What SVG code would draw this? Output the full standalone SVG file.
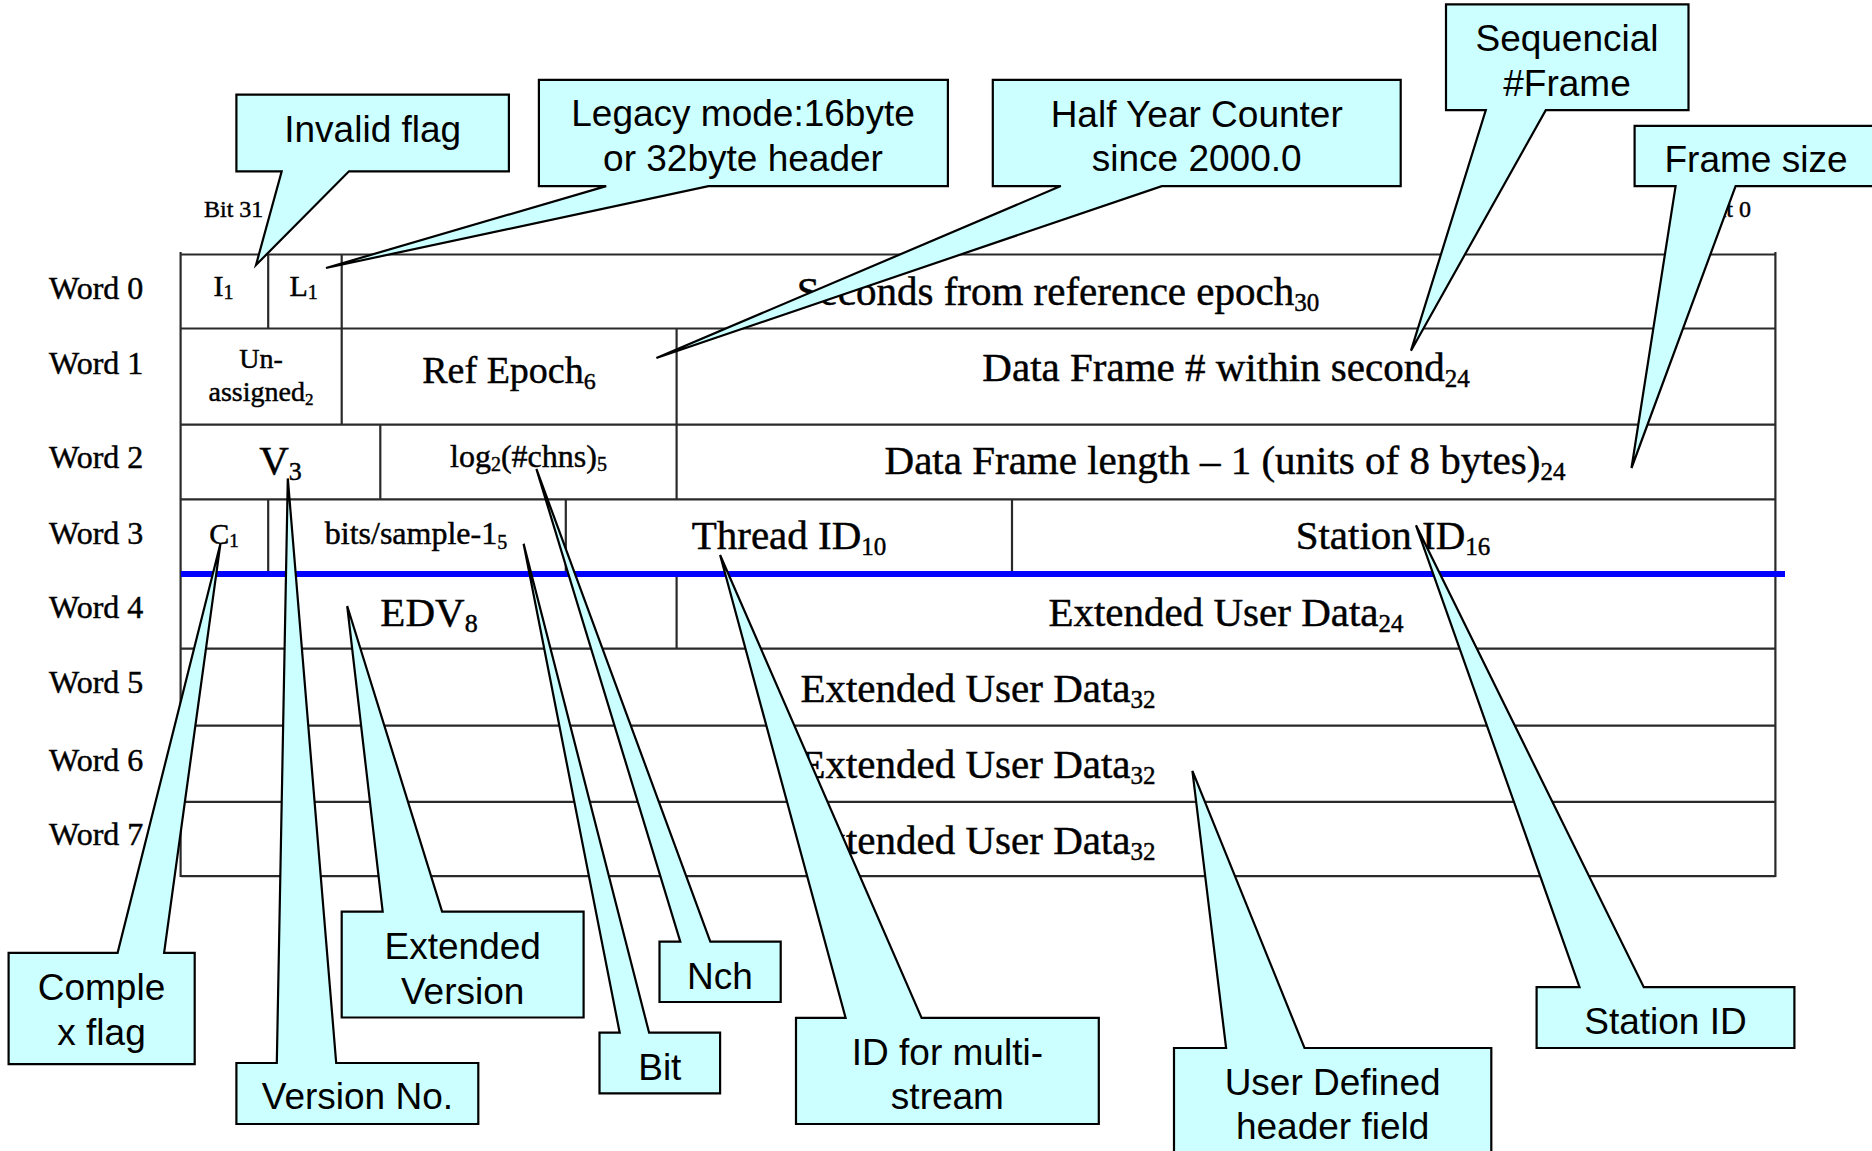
<svg xmlns="http://www.w3.org/2000/svg" width="1872" height="1151" viewBox="0 0 1872 1151">
<style>
.grid{stroke:#2a2a2a;stroke-width:2.2;fill:none}
.blue{stroke:#0000ff;stroke-width:6}
.t{font-family:"Liberation Serif","Times New Roman",serif;fill:#000;stroke:#000;stroke-width:0.45}
.big{font-size:41px;text-anchor:middle}
.mid{font-size:32px;text-anchor:middle}
.sm{font-size:30px;text-anchor:middle}
.word{font-size:32px}
.co{fill:#ccffff;stroke:#000;stroke-width:2.2;stroke-linejoin:miter}
.ct{font-family:"Liberation Sans",Arial,sans-serif;font-size:37px;text-anchor:middle;fill:#000}
</style>
<rect width="1872" height="1151" fill="#fff"/>
<g id="table">
<path class="grid" d="M180.6,254.5 H1775.4 M180.6,328.5 H1775.4 M180.6,424.7 H1775.4 M180.6,499.4 H1775.4 M180.6,648.7 H1775.4 M180.6,725.6 H1775.4 M180.6,801.9 H1775.4 M180.6,876.2 H1775.4 M180.6,252 V877 M1775.4,252 V877 M268.2,254.5 V328.5 M341.7,254.5 V424.7 M676.6,328.5 V499.4 M380.3,424.7 V499.4 M268.2,499.4 V573 M565.8,499.4 V573 M1012,499.4 V573 M676.6,573 V648.7"/>
<line class="blue" x1="181" y1="574" x2="1785" y2="574"/>
</g>
<g id="labels">
<text class="t" x="204" y="217" font-size="24">Bit 31</text>
<text class="t" x="1751" y="217" font-size="24" text-anchor="end">Bit 0</text>
<text class="t word" x="49" y="299">Word 0</text>
<text class="t word" x="49" y="374.4">Word 1</text>
<text class="t word" x="49" y="468">Word 2</text>
<text class="t word" x="49" y="543.8">Word 3</text>
<text class="t word" x="49" y="618">Word 4</text>
<text class="t word" x="49" y="693">Word 5</text>
<text class="t word" x="49" y="770.8">Word 6</text>
<text class="t word" x="49" y="844.8">Word 7</text>
</g>
<g id="fields">
<text class="t sm" x="223.5" y="295.7">I<tspan font-size="20" dy="3">1</tspan></text>
<text class="t sm" x="303.7" y="295.7">L<tspan font-size="20" dy="3">1</tspan></text>
<text class="t big" x="1058" y="305">Seconds from reference epoch<tspan font-size="25" dy="6">30</tspan></text>
<text class="t" x="261" y="368.3" font-size="28" text-anchor="middle">Un-</text>
<text class="t" x="261" y="401" font-size="28" text-anchor="middle">assigned<tspan font-size="17" dy="4">2</tspan></text>
<text class="t" x="509" y="383" font-size="38" text-anchor="middle">Ref Epoch<tspan font-size="24" dy="6">6</tspan></text>
<text class="t big" x="1226" y="381">Data Frame # within second<tspan font-size="25" dy="6">24</tspan></text>
<text class="t big" x="280.5" y="473.5">V<tspan font-size="26" dy="6">3</tspan></text>
<text class="t mid" x="528.5" y="467">log<tspan font-size="20" dy="4">2</tspan><tspan dy="-4">(#chns)</tspan><tspan font-size="20" dy="4">5</tspan></text>
<text class="t big" x="1225" y="473.6">Data Frame length – 1 (units of 8 bytes)<tspan font-size="25" dy="6">24</tspan></text>
<text class="t" x="224" y="544" font-size="30" text-anchor="middle">C<tspan font-size="19" dy="3">1</tspan></text>
<text class="t mid" x="416" y="543.5">bits/sample-1<tspan font-size="20" dy="5">5</tspan></text>
<text class="t big" x="789" y="549.4">Thread ID<tspan font-size="25" dy="6">10</tspan></text>
<text class="t big" x="1393" y="549.4">Station ID<tspan font-size="25" dy="6">16</tspan></text>
<text class="t big" x="429" y="626">EDV<tspan font-size="26" dy="6">8</tspan></text>
<text class="t big" x="1226" y="626">Extended User Data<tspan font-size="25" dy="6">24</tspan></text>
<text class="t big" x="978" y="702.3">Extended User Data<tspan font-size="25" dy="6">32</tspan></text>
<text class="t big" x="978" y="778.2">Extended User Data<tspan font-size="25" dy="6">32</tspan></text>
<text class="t big" x="978" y="854">Extended User Data<tspan font-size="25" dy="6">32</tspan></text>
</g>
<g id="connectors"></g>
<g id="callout-invalid">
<path class="co" d="M236.4,94.7 H508.9 V171.3 H349 L256,265 L281.7,171.3 H236.4 Z"/>
<text class="ct" x="372.7" y="141.7">Invalid flag</text>
</g>
<g id="callout-legacy">
<path class="co" d="M538.9,79.9 H947.9 V186.1 H708.5 L326,268 L606.2,186.1 H538.9 Z"/>
<text class="ct" x="743" y="126">Legacy mode:16byte</text>
<text class="ct" x="743" y="171">or 32byte header</text>
</g>
<g id="callout-halfyear">
<path class="co" d="M992.8,79.9 H1400.7 V186.1 H1161.8 L656.4,358 L1060.8,186.1 H992.8 Z"/>
<text class="ct" x="1196.7" y="127">Half Year Counter</text>
<text class="ct" x="1196.7" y="171">since 2000.0</text>
</g>
<g id="callout-seqframe">
<path class="co" d="M1446,4.4 H1688.5 V110.2 H1545.8 L1411,350.7 L1485.8,110.2 H1446 Z"/>
<text class="ct" x="1567" y="51">Sequencial</text>
<text class="ct" x="1567" y="96">#Frame</text>
</g>
<g id="callout-framesize">
<path class="co" d="M1634.6,125.8 H1882 V186.1 H1735.6 L1631.5,468 L1675.6,186.1 H1634.6 Z"/>
<text class="ct" x="1756" y="172">Frame size</text>
</g>
<g id="callout-complex">
<path class="co" d="M8.6,952.8 H117.6 L220.4,543.8 L164.1,952.8 H194.7 V1064.2 H8.6 Z"/>
<text class="ct" x="101.5" y="1000">Comple</text>
<text class="ct" x="101.5" y="1044.5">x flag</text>
</g>
<g id="callout-version">
<path class="co" d="M236.4,1063 H276.8 L287.8,478.4 L336.2,1063 H478.3 V1124 H236.4 Z"/>
<text class="ct" x="357.4" y="1109">Version No.</text>
</g>
<g id="callout-extversion">
<path class="co" d="M341.7,911.7 H382.7 L347.2,606 L442.1,911.7 H583.6 V1017.5 H341.7 Z"/>
<text class="ct" x="462.7" y="958.7">Extended</text>
<text class="ct" x="462.7" y="1003.8">Version</text>
</g>
<g id="callout-bit">
<path class="co" d="M599.5,1032.7 H619.7 L523.6,543.8 L649.1,1032.7 H720.1 V1093.4 H599.5 Z"/>
<text class="ct" x="659.8" y="1079.7">Bit</text>
</g>
<g id="callout-nch">
<path class="co" d="M659.5,941.7 H680.3 L536.4,469 L710.3,941.7 H780.7 V1002 H659.5 Z"/>
<text class="ct" x="720" y="989">Nch</text>
</g>
<g id="callout-threadid">
<path class="co" d="M796,1017.9 H845.6 L720.1,555 L921.6,1017.9 H1098.8 V1124 H796 Z"/>
<text class="ct" x="947.4" y="1065">ID for multi-</text>
<text class="ct" x="947.4" y="1109">stream</text>
</g>
<g id="callout-userdefined">
<path class="co" d="M1174,1048 H1226.1 L1192.4,770.8 L1304.5,1048 H1491.3 V1160 H1174 Z"/>
<text class="ct" x="1332.6" y="1094.5">User Defined</text>
<text class="ct" x="1332.6" y="1139">header field</text>
</g>
<g id="callout-stationid">
<path class="co" d="M1536.6,987.2 H1579.5 L1416,525.3 L1643.8,987.2 H1794.4 V1048 H1536.6 Z"/>
<text class="ct" x="1665.5" y="1033.5">Station ID</text>
</g>
</svg>
